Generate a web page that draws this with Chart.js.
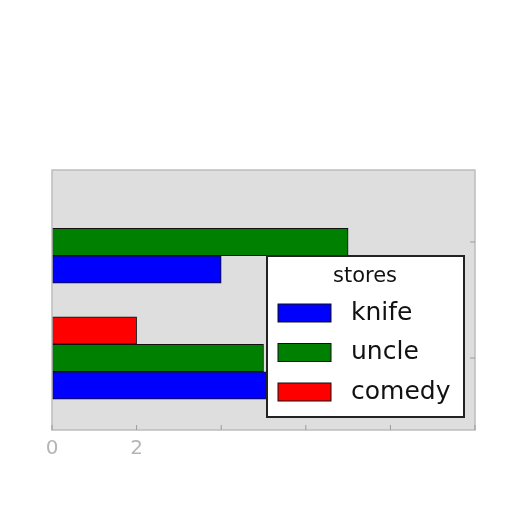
<!DOCTYPE html>
<html>
<head>
<meta charset="utf-8">
<script src="https://cdn.jsdelivr.net/npm/chart.js@4/dist/chart.umd.min.js"></script>
<style>
  html, body { margin: 0; padding: 0; background: #fff; }
  #chart { display: block; }
</style>
</head>
<body>
<canvas id="chart" width="512" height="512"></canvas>
<script>
// category positions on the y axis (0 = bottom group)
const positions = [0, 1];
const seriesNames = ['knife', 'uncle', 'comedy'];
const seriesColors = ['#0000ff', '#008000', '#ff0000'];
const knife = [6, 4];
const uncle = [5, 7];
const comedy = [2, 0];
const xTickLabels = ['0', '2'];
const legendTitle = 'stores';

const FONT = '"DejaVu Sans", "Liberation Sans", sans-serif';

function toPoints(values) {
    return values.map((v, i) => ({ x: v, y: positions[i] }));
}

const seriesValues = [knife, uncle, comedy];

// knife sits at the bottom of each group, so feed the datasets top-down
const datasets = [2, 1, 0].map(k => ({
    label: seriesNames[k],
    data: toPoints(seriesValues[k]),
    backgroundColor: seriesColors[k],
    borderColor: '#111',
    borderWidth: 1,
    borderSkipped: false,
    barThickness: 27.5
}));

// grey axes background, frame and inward tick marks
const frame = {
    id: 'frame',
    beforeDatasetsDraw(chart) {
        const { ctx, chartArea: a } = chart;
        ctx.save();
        ctx.fillStyle = '#dedede';
        ctx.fillRect(a.left, a.top, a.right - a.left, a.bottom - a.top);
        ctx.restore();
    },
    afterDatasetsDraw(chart) {
        const { ctx, chartArea: a, scales } = chart;
        ctx.save();
        ctx.strokeStyle = '#bdbdbd';
        ctx.lineWidth = 1.5;
        ctx.strokeRect(a.left, a.top, a.right - a.left, a.bottom - a.top);
        ctx.strokeStyle = '#9a9a9a';
        ctx.lineWidth = 1;
        ctx.beginPath();
        scales.x.ticks.forEach(t => {
            const px = scales.x.getPixelForValue(t.value);
            ctx.moveTo(px, a.bottom);
            ctx.lineTo(px, a.bottom - 5);
        });
        positions.forEach(p => {
            const py = scales.y.getPixelForValue(p);
            ctx.moveTo(a.right, py);
            ctx.lineTo(a.right - 5, py);
        });
        ctx.stroke();
        ctx.restore();
    }
};

// legend box drawn inside the plot, lower right
const insideLegend = {
    id: 'insideLegend',
    afterDraw(chart) {
        const { ctx, chartArea: a } = chart;
        const w = 197, h = 161;
        const x = a.right - 11 - w;
        const y = a.bottom - 13 - h;
        ctx.save();
        ctx.fillStyle = '#fff';
        ctx.fillRect(x, y, w, h);
        ctx.strokeStyle = '#222';
        ctx.lineWidth = 2;
        ctx.strokeRect(x, y, w, h);

        ctx.fillStyle = '#111';
        ctx.textBaseline = 'middle';
        ctx.textAlign = 'center';
        ctx.font = '21px ' + FONT;
        ctx.fillText(legendTitle, x + 98, y + 21);

        ctx.textAlign = 'left';
        ctx.font = '25px ' + FONT;
        seriesNames.forEach((name, i) => {
            const cy = y + 57 + i * 39.5;
            ctx.fillStyle = seriesColors[i];
            ctx.fillRect(x + 11, cy - 9, 53, 18);
            ctx.strokeStyle = '#111';
            ctx.lineWidth = 1;
            ctx.strokeRect(x + 11, cy - 9, 53, 18);
            ctx.fillStyle = '#111';
            ctx.fillText(name, x + 84, cy);
        });
        ctx.restore();
    }
};

new Chart(document.getElementById('chart'), {
    type: 'bar',
    data: { datasets },
    plugins: [frame, insideLegend],
    options: {
        indexAxis: 'y',
        responsive: false,
        animation: false,
        devicePixelRatio: 1,
        layout: { padding: { left: 52, right: 37, top: 170, bottom: 44 } },
        plugins: { legend: { display: false }, tooltip: { enabled: false } },
        scales: {
            x: {
                type: 'linear',
                min: 0,
                max: 10,
                grid: { display: false, drawTicks: false },
                border: { display: false },
                ticks: {
                    stepSize: 2,
                    padding: 7,
                    color: '#b5b5b5',
                    font: { family: FONT, size: 20 },
                    callback: v => xTickLabels.includes(String(v)) ? String(v) : ''
                }
            },
            y: {
                type: 'linear',
                min: -0.62,
                max: 1.62,
                offset: false,
                display: false
            }
        }
    }
});
</script>
</body>
</html>
